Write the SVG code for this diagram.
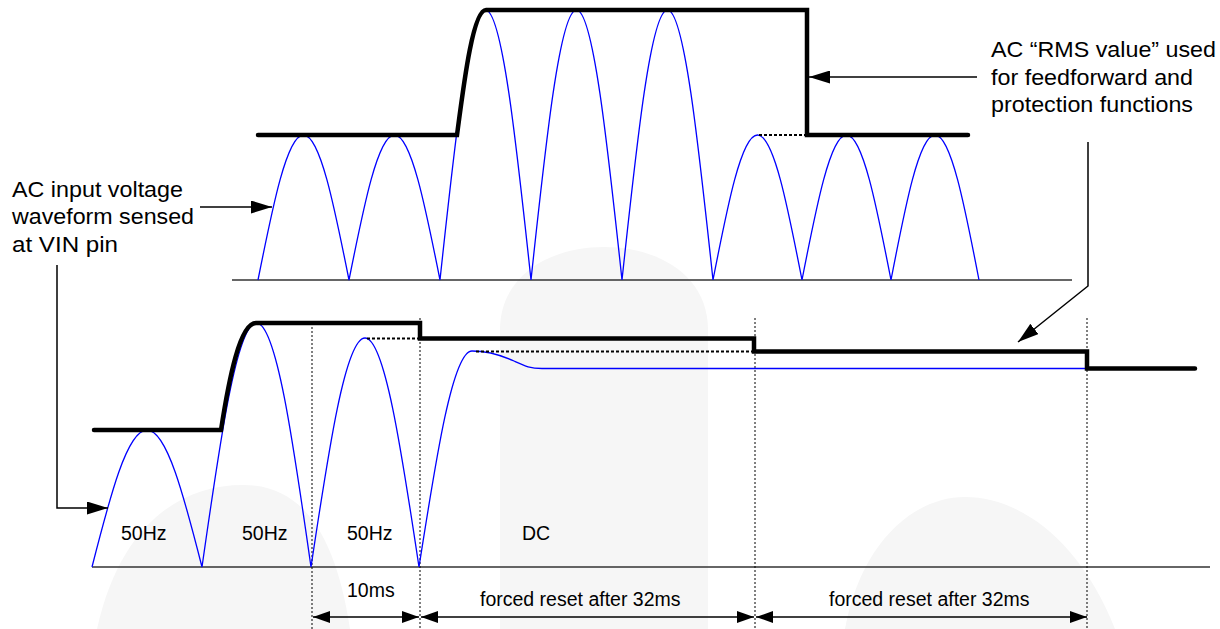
<svg xmlns="http://www.w3.org/2000/svg" width="1220" height="629" viewBox="0 0 1220 629">
<style>
  .ax{stroke:#333;stroke-width:1.5;fill:none}
  .wave{stroke:#0000ff;stroke-width:1.3;fill:none;stroke-linejoin:miter}
  .rms{stroke:#000;stroke-width:4.5;fill:none;stroke-linecap:round;stroke-linejoin:miter}
  .dot{stroke:#000;stroke-width:2;fill:none;stroke-dasharray:3,2}
  .vdot{stroke:#000;stroke-width:1;fill:none;stroke-dasharray:2,2}
  .con{stroke:#000;stroke-width:1.5;fill:none}
  .ann{font-family:"Liberation Sans",Arial,sans-serif;font-size:22px;fill:#000}
  .lbl{font-family:"Liberation Sans",Arial,sans-serif;font-size:19.5px;fill:#000}
  .wm{fill:#f6f6f6}
</style>
<defs>
  <marker id="ah" viewBox="0 0 21 13" refX="21" refY="6.5" markerWidth="21" markerHeight="13" markerUnits="userSpaceOnUse" orient="auto-start-reverse">
    <path d="M0,0 L21,6.5 L0,13 Z" fill="#000"/>
  </marker>
  <marker id="dh" viewBox="0 0 17 12" refX="17" refY="6" markerWidth="17" markerHeight="12" markerUnits="userSpaceOnUse" orient="auto-start-reverse">
    <path d="M0,0 L17,6 L0,12 Z" fill="#000"/>
  </marker>
</defs>
<rect width="1220" height="629" fill="#fff"/>
<g id="watermark">
  <path class="wm" d="M500,629 L500,330 C500,275 550,247 604,247 C658,247 708,275 708,330 L708,629 Z"/>
  <path class="wm" d="M97,629 C120,525 180,485 243,485 C300,485 335,530 350,629 Z"/>
  <path class="wm" d="M845,629 C860,545 912,497 965,497 C1020,497 1080,540 1115,629 Z"/>
</g>
<g id="axes">
  <line class="ax" x1="232" y1="280" x2="1072" y2="280"/>
  <line class="ax" x1="92" y1="567" x2="1210" y2="567"/>
</g>
<g id="time-markers">
  <line class="vdot" x1="312" y1="323" x2="312" y2="629"/>
  <line class="vdot" x1="420" y1="318" x2="420" y2="629"/>
  <line class="vdot" x1="755" y1="318" x2="755" y2="629"/>
  <line class="vdot" x1="1087" y1="318" x2="1087" y2="629"/>
</g>
<g id="top-waveform">
  <path class="wave" d="M258,280 C272.8,205.7 287,135 303.5,135 C320,135 334.2,205.7 349,280 C363.8,205.7 378,135 394.5,135 C411,135 425.2,205.7 440,280 C454.8,141.7 469,10 485.5,10 C502,10 516.2,141.7 531,280 C545.8,141.7 560,10 576.5,10 C593,10 607.2,141.7 622,280 C636.8,141.7 651,10 667.5,10 C684,10 698.2,141.7 713,280 C727.5,205.7 741.4,135 757.5,135 C773.6,135 787.5,205.7 802,280 C816.5,205.7 830.4,135 846.5,135 C862.6,135 876.5,205.7 891,280 C905.35,205.7 919.1,135 935,135 C950.9,135 964.65,205.7 979,280"/>
  <path class="rms" d="M258,135 L457,135 C464,82 473,10 486,10 L807,10 L807,135 L968,135"/>
  <line class="dot" x1="759" y1="135" x2="805" y2="135"/>
</g>
<g id="bottom-waveform">
  <path class="wave" d="M92,567 C109.9,496.8 127.1,430 147,430 C166.9,430 184.1,496.8 202,567 C219.8,442 236.8,323 256.5,323 C276.2,323 293.2,442 311,567 C328.6,449.7 345.5,338 365,338 C384.5,338 401.4,449.7 419,567 C436.3,456.3 452.8,351 472,351 C489,351 503,356 514,361 C525,366 530,368.5 542,368.5 L1087,368.5"/>
  <path class="rms" d="M94,430 L221,430 C229,378 240,323 256,323 L420,323 L420,338.5 L754,338.5 L754,351.5 L1087,351.5 L1087,368.5 L1195,368.5"/>
  <line class="dot" x1="367" y1="338.5" x2="418" y2="338.5"/>
  <line class="dot" x1="476" y1="351.5" x2="752" y2="351.5"/>
</g>
<g id="connectors">
  <path class="con" d="M200,207 L272,207" marker-end="url(#ah)"/>
  <path class="con" d="M57,265 L57,508 L108,508" marker-end="url(#ah)"/>
  <path class="con" d="M977,77 L809,77" marker-end="url(#ah)"/>
  <path class="con" d="M1088,142 L1088,286 L1018,342" marker-end="url(#ah)"/>
  <path class="con" d="M313,617 L419,617" marker-start="url(#dh)" marker-end="url(#dh)"/>
  <path class="con" d="M421,617 L754,617" marker-start="url(#dh)" marker-end="url(#dh)"/>
  <path class="con" d="M756,617 L1087,617" marker-start="url(#dh)" marker-end="url(#dh)"/>
</g>
<g id="label-input">
  <text class="ann" x="12" y="197" textLength="171" lengthAdjust="spacingAndGlyphs">AC input voltage</text>
  <text class="ann" x="12" y="224" textLength="182" lengthAdjust="spacingAndGlyphs">waveform sensed</text>
  <text class="ann" x="12" y="251.5" textLength="106" lengthAdjust="spacingAndGlyphs">at VIN pin</text>
</g>
<g id="label-rms">
  <text class="ann" x="991" y="57" textLength="225" lengthAdjust="spacingAndGlyphs">AC “RMS value” used</text>
  <text class="ann" x="991" y="85" textLength="202" lengthAdjust="spacingAndGlyphs">for feedforward and</text>
  <text class="ann" x="991" y="112" textLength="202" lengthAdjust="spacingAndGlyphs">protection functions</text>
</g>
<g id="labels">
  <text class="lbl" x="121" y="540">50Hz</text>
  <text class="lbl" x="242" y="540">50Hz</text>
  <text class="lbl" x="347" y="540">50Hz</text>
  <text class="lbl" x="522" y="540">DC</text>
  <text class="lbl" x="347" y="597">10ms</text>
  <text class="lbl" x="480" y="606">forced reset after 32ms</text>
  <text class="lbl" x="829" y="606">forced reset after 32ms</text>
</g>
</svg>
